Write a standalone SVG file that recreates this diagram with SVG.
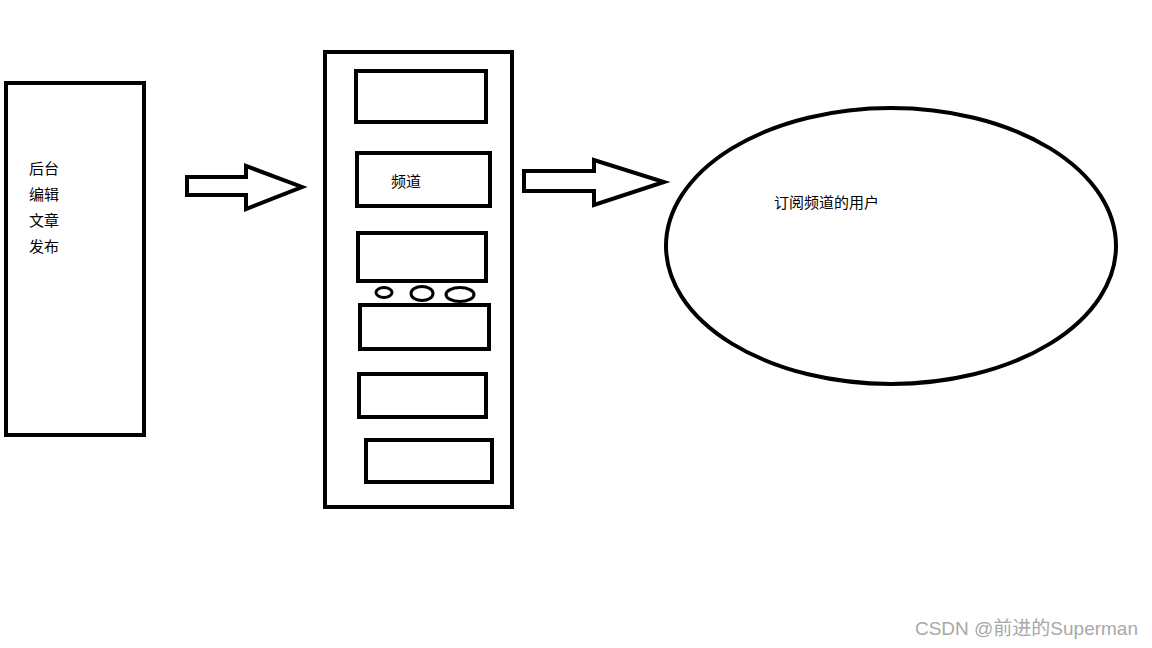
<svg xmlns="http://www.w3.org/2000/svg" width="1152" height="648" viewBox="0 0 1152 648">
<style>
.s{fill:#fff;stroke:#000;stroke-width:4}
.o{fill:#fff;stroke:#000;stroke-width:3}
.t{font-family:"Liberation Sans","Noto Sans CJK SC",sans-serif;font-size:15px;fill:#000}
.w{font-family:"Liberation Sans","Noto Sans CJK SC",sans-serif;font-size:19px;fill:#a8a8a8}
</style>
<rect width="1152" height="648" fill="#fff"/>
<g id="backend">
<rect class="s" x="6" y="83" width="138" height="352"/>
<text class="t" x="29" y="174">后台</text>
<text class="t" x="29" y="200">编辑</text>
<text class="t" x="29" y="226">文章</text>
<text class="t" x="29" y="252">发布</text>
</g>
<g id="channels">
<rect class="s" x="325" y="52" width="187" height="455"/>
<rect class="s" x="356" y="71" width="130" height="51"/>
<rect class="s" x="357" y="153" width="133" height="53"/>
<text class="t" x="391" y="187">频道</text>
<rect class="s" x="358" y="233" width="128" height="48"/>
<ellipse class="o" cx="384" cy="292.5" rx="8" ry="5"/>
<ellipse class="o" cx="422" cy="293.5" rx="11" ry="7"/>
<ellipse class="o" cx="460" cy="294.5" rx="14" ry="7"/>
<rect class="s" x="360" y="305" width="129" height="44"/>
<rect class="s" x="359" y="374" width="127" height="43"/>
<rect class="s" x="366" y="440" width="126" height="42"/>
</g>
<g id="subscribers">
<ellipse class="s" cx="891" cy="246" rx="225" ry="138"/>
<text class="t" x="774" y="208">订阅频道的用户</text>
</g>
<g id="connectors">
<polygon class="s" points="187,177 246,177 246,166 302,187 246,209 246,195 187,195"/>
<polygon class="s" points="524,171 594,171 594,160 664,182 594,205 594,191 524,191"/>
</g>
<text class="w" x="1138" y="635" text-anchor="end">CSDN @前进的Superman</text>
</svg>
